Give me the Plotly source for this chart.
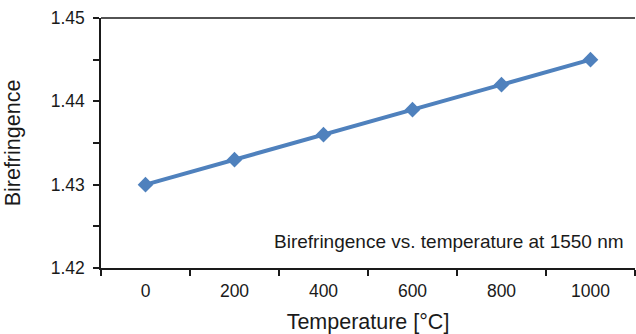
import plotly.graph_objects as go

temperatures = ["0", "200", "400", "600", "800", "1000"]
birefringence = [1.430, 1.433, 1.436, 1.439, 1.442, 1.445]
y_ticks = [1.42, 1.43, 1.44, 1.45]
y_tick_text = ["1.42", "1.43", "1.44", "1.45"]

line_color = "#4F81BD"
text_color = "#1a1a1a"
font_family = "Liberation Sans, Arial, sans-serif"

fig = go.Figure(
    go.Scatter(
        x=temperatures,
        y=birefringence,
        mode="lines+markers",
        line=dict(color=line_color, width=4),
        marker=dict(symbol="diamond", size=12, color=line_color),
        showlegend=False,
    )
)

fig.update_layout(
    width=636,
    height=334,
    margin=dict(l=101, r=1, t=18, b=66),
    paper_bgcolor="white",
    plot_bgcolor="white",
    font=dict(family=font_family, size=17, color=text_color),
    annotations=[
        dict(
            text="Birefringence vs. temperature at 1550 nm",
            xref="paper", yref="paper",
            x=0.984, y=0.105,
            xanchor="right", yanchor="middle",
            showarrow=False,
            font=dict(size=19, color=text_color),
        )
    ],
)

fig.update_xaxes(
    type="category",
    tickson="boundaries",
    ticks="outside",
    ticklen=6,
    tickwidth=1.5,
    tickcolor=text_color,
    showline=True,
    linecolor=text_color,
    linewidth=1.5,
    showgrid=False,
    zeroline=False,
    range=[-0.5, 5.5],
    ticklabelstandoff=6,
    title=dict(text="Temperature [°C]", font=dict(size=21.5), standoff=16),
    tickfont=dict(size=17.5),
)

fig.update_yaxes(
    range=[1.42, 1.45],
    tickvals=y_ticks,
    ticktext=y_tick_text,
    ticks="outside",
    ticklen=6,
    tickwidth=1.5,
    tickcolor=text_color,
    minor=dict(dtick=0.005, ticks="outside", ticklen=6, tickwidth=1.5,
               tickcolor=text_color, showgrid=False),
    showline=True,
    linecolor=text_color,
    linewidth=1.5,
    showgrid=False,
    zeroline=False,
    ticklabelstandoff=5,
    title=dict(text="Birefringence", font=dict(size=21.5), standoff=24),
    tickfont=dict(size=17.5),
)

# frame line across the top of the plot area
fig.add_shape(
    type="line", xref="paper", yref="paper",
    x0=0, x1=1, y0=1, y1=1,
    line=dict(color=text_color, width=1.5),
)

fig.write_html("out.html")
